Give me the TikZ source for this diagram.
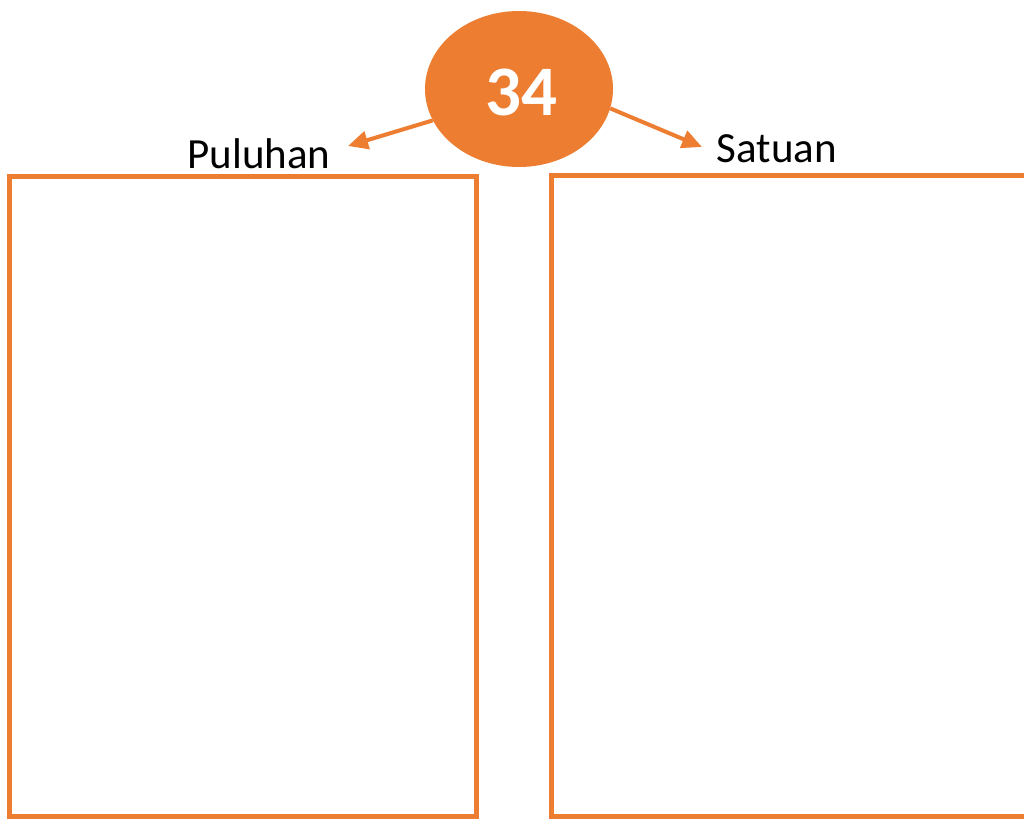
\documentclass[tikz,border=0pt]{standalone}
\usepackage{fontspec}
\setmainfont{Carlito}
\usetikzlibrary{arrows.meta,shapes.geometric}
\definecolor{oranye}{HTML}{ED7D31}

\begin{document}
\begin{tikzpicture}[x=1pt,y=-1pt,
    kotak/.style={draw=oranye, line width=5pt},
    panah/.style={draw=oranye, line width=4pt, -{Triangle[length=20pt,width=18pt]}},
    label/.style={anchor=base, font=\fontsize{43}{50}\selectfont, inner sep=0pt}]
    \useasboundingbox (0,0) rectangle (1024,819);
    \draw[kotak] (9.5,176) rectangle (476,816.5);
    \draw[kotak] (551,175.5) rectangle (1040,816.5);
    \node[label] (puluhan) at (259,168) {Puluhan};
    \node[label] (satuan) at (777,162) {Satuan};
    \coordinate (ujungkiri) at (348,146);
    \coordinate (ujungkanan) at (702,147);
    \node[ellipse, fill=oranye, minimum width=188pt, minimum height=156pt, inner sep=0pt] (angka) at (519,89) {};
    \draw[panah] (angka.200) -- (ujungkiri);
    \draw[panah] (angka.-12) -- (ujungkanan);
    \node[font=\fontsize{71}{80}\selectfont\bfseries, text=white, anchor=base] (teks) at (521,115) {34};
\end{tikzpicture}
\end{document}
